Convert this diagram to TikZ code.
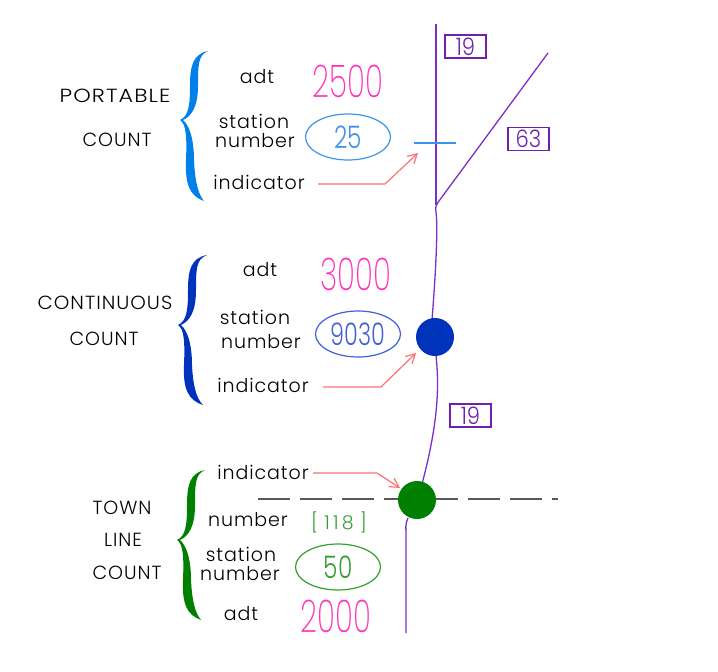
\documentclass[tikz,border=0pt]{standalone}
\usepackage{fontspec}
\usepackage{graphicx}
\setmainfont{Poppins Light}[LetterSpace=5]
\newfontfamily\numfont{Poppins ExtraLight}
\newfontfamily\midfont{Poppins Light}
\usetikzlibrary{arrows.meta,shapes.geometric}
\definecolor{cPink}{HTML}{FF33BB}
\definecolor{cRoad}{HTML}{7A30C8}
\definecolor{cBox}{HTML}{7020B0}
\definecolor{cArrow}{HTML}{FF7070}
\definecolor{cBraceA}{HTML}{0080E8}
\definecolor{cBraceB}{HTML}{0033BB}
\definecolor{cBraceC}{HTML}{008000}
\definecolor{cEllA}{HTML}{3F93EA}
\definecolor{cEllB}{HTML}{3F60D8}
\definecolor{cEllC}{HTML}{33A033}
\newcommand{\nar}[2]{\scalebox{#1}[1]{#2}}
\tikzset{
  lbl/.style={text=black,font=\fontsize{19}{19}\selectfont,inner sep=0pt},
  big/.style={text=cPink,font=\fontsize{45}{45}\numfont,inner sep=0pt},
  ell/.style={draw=#1,text=#1,ellipse,line width=1.2pt,minimum width=85pt,minimum height=46pt,inner sep=0pt,font=\fontsize{31}{31}\midfont},
  tag/.style={draw=cBox,text=cBox,line width=1.3pt,minimum width=41pt,minimum height=23pt,inner sep=0pt,font=\fontsize{24}{24}\midfont},
  road/.style={draw=cRoad,line width=1.3pt},
  ind/.style={draw=cArrow,line width=1.2pt,-{Straight Barb[length=9pt,width=10pt]}},
}
% brace: #1 tip x, #2 top y, #3 tip y, #4 bottom y, #5 top end x, #6 bottom end x, #7 colour
\newcommand{\bracefill}[7]{%
  \pgfmathsetmacro{\qa}{#2*0.5+#3*0.5}%
  \pgfmathsetmacro{\qb}{#3*0.5+#4*0.5}%
  \fill[#7] (#5,#2)
    .. controls ({#1+13},{#2+3}) and ({#1+10},{#2+15}) .. ({#1+10},\qa)
    .. controls ({#1+10},{#3-16}) and ({#1+9},{#3-4}) .. (#1,#3)
    .. controls ({#1+6},{#3+4}) and ({#1+7},{#3+16}) .. ({#1+6},\qb)
    .. controls ({#1+5},{#4-16}) and ({#1+10},{#4-5}) .. (#6,#4)
    .. controls ({#1+18},{#4-7}) and ({#1+15},{#4-20}) .. ({#1+14},\qb)
    .. controls ({#1+14},{#3+18}) and ({#1+9},{#3+5}) .. ({#1+3},#3)
    .. controls ({#1+12},{#3-4}) and ({#1+18},{#3-14}) .. ({#1+18},\qa)
    .. controls ({#1+18},{#2+15}) and ({#1+18},{#2+4}) .. (#5,#2) -- cycle;}
\begin{document}
\begin{tikzpicture}[x=1pt,y=-1pt]
\useasboundingbox (0,0) rectangle (718,672);
% roads
\draw[road] (436,24) -- (436,205);
\draw[road] (548,53) -- (439,201) .. controls (436,205) and (435,208) .. (436,212)
  .. controls (438,225) and (436,270) .. (432,320);
\draw[road] (436,355) .. controls (439,385) and (439,420) .. (422,484);
\draw[road] (408,518) .. controls (405,525) and (406,528) .. (406,533) -- (406,633);
% dashed town line
\coordinate (tlA) at (258,499);
\coordinate (tlB) at (558,499);
\draw[black!65,line width=1.2pt,dash pattern=on 32pt off 10pt] (tlA) -- (tlB);
% portable station tick
\coordinate (tkA) at (414,143);
\coordinate (tkB) at (456,143);
\draw[cEllA,line width=1.2pt] (tkA) -- (tkB);
% junction dots
\node[circle,fill=cBraceB,minimum size=38pt,inner sep=0pt] (dotB) at (435,337) {};
\node[circle,fill=cBraceC,minimum size=38pt,inner sep=0pt] (dotC) at (417,500) {};
% route tags
\node[tag] (r19a) at (465.5,46.5) {\nar{.88}{19}};
\node[tag] (r63) at (528.5,139) {\nar{.88}{63}};
\node[tag] (r19b) at (470.5,415.5) {\nar{.88}{19}};
% braces
\bracefill{180}{51}{120}{201}{208}{204}{cBraceA}
\bracefill{178}{255}{325}{405}{207}{203}{cBraceB}
\bracefill{177}{470}{540}{620}{205}{201}{cBraceC}
% portable
\node[lbl] (pA) at (115,96) {\nar{1.17}{PORTABLE}};
\node[lbl] (pB) at (117,140) {COUNT};
\node[lbl] (pAdt) at (257,77) {adt};
\node[big] (pVal) at (348,81) {\nar{.66}{2500}};
\node[lbl] (pS) at (254,121) {station};
\node[lbl] (pN) at (255,141) {number};
\node[ell=cEllA] (pE) at (348,137) {\nar{.75}{25}};
\node[lbl] (pI) at (259,182) {indicator};
\coordinate (pF) at (318,184);
\coordinate (pT) at (418,153);
\draw[ind] (pF) -- (385,184) -- (pT);
% continuous
\node[lbl] (cA) at (105,303) {\nar{1.04}{CONTINUOUS}};
\node[lbl] (cB) at (104,339) {COUNT};
\node[lbl] (cAdt) at (260,270) {adt};
\node[big] (cVal) at (356,274) {\nar{.66}{3000}};
\node[lbl] (cS) at (255,317) {station};
\node[lbl] (cN) at (261,342) {number};
\node[ell=cEllB] (cE) at (358,334) {\nar{.72}{9030}};
\node[lbl] (cI) at (263,385) {indicator};
\coordinate (cF) at (323,387);
\coordinate (cT) at (416,353);
\draw[ind] (cF) -- (381,387) -- (cT);
% town line
\node[lbl] (tA) at (122,508) {TOWN};
\node[lbl] (tB) at (123,540) {LINE};
\node[lbl] (tC) at (127,573) {COUNT};
\node[lbl] (tI) at (263,472) {indicator};
\coordinate (tF) at (313,473);
\coordinate (tT) at (400,488);
\draw[ind] (tF) -- (377,473) -- (tT);
\node[lbl] (tN) at (248,520) {number};
\node[text=cEllC,inner sep=0pt,font=\fontsize{19}{19}\midfont] (tNum) at (339,522) {[\,\,1\,1\,8\,\,]};
\node[lbl] (tS) at (241,554) {station};
\node[lbl] (tN2) at (240,574) {number};
\node[ell=cEllC] (tE) at (338,567) {\nar{.75}{50}};
\node[lbl] (tAdt) at (241,614) {adt};
\node[big] (tVal) at (336,616) {\nar{.66}{2000}};
\end{tikzpicture}
\end{document}
